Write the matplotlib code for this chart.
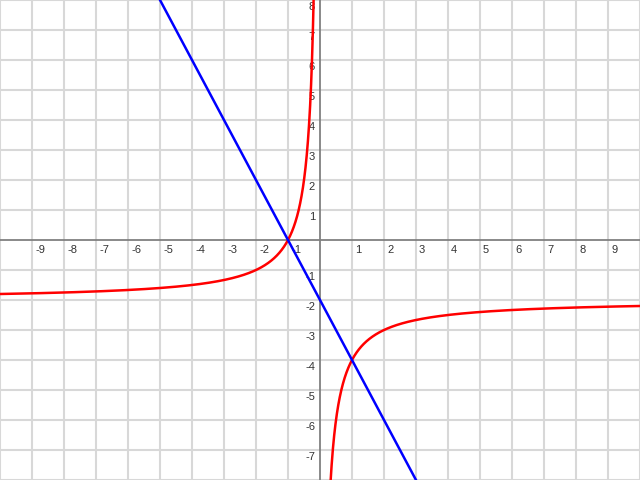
import numpy as np
import matplotlib
matplotlib.use("Agg")
import matplotlib.pyplot as plt

# View window and tick labels
x_range = [-10, 10]
y_range = [-8, 8]
x_ticks = [-9, -8, -7, -6, -5, -4, -3, -2, -1, 1, 2, 3, 4, 5, 6, 7, 8, 9]
y_ticks = [-7, -6, -5, -4, -3, -2, -1, 1, 2, 3, 4, 5, 6, 7, 8]

# Functions shown: line y = m*x + b, hyperbola y = c + k/x
line_m = -2
line_b = -2
hyp_c = -2
hyp_k = -2

fig = plt.figure(figsize=(6.4, 4.8), dpi=100)
ax = fig.add_axes([0, 0, 1, 1])
ax.set_xlim(*x_range)
ax.set_ylim(*y_range)
for s in ax.spines.values():
    s.set_visible(False)
ax.set_xticks([])
ax.set_yticks([])

grid_col = "#d8d8d8"
for gx in range(x_range[0], x_range[1] + 1):
    if gx != 0:
        ax.axvline(gx, color=grid_col, lw=1.5, zorder=0)
for gy in range(y_range[0], y_range[1] + 1):
    if gy != 0:
        ax.axhline(gy, color=grid_col, lw=1.5, zorder=0)
ax.axhline(0, color="#808080", lw=1.3, zorder=1)
ax.axvline(0, color="#808080", lw=1.3, zorder=1)

font = dict(family=["Liberation Sans", "DejaVu Sans"], size=8, color="#333333")
for t in x_ticks:
    ax.annotate(str(t), xy=(t, 0), xytext=(2.2, -3.6), textcoords="offset points",
                ha="left", va="top", zorder=2, **font)
for t in y_ticks:
    ax.annotate(str(t), xy=(0, t), xytext=(-3.6, -5.0), textcoords="offset points",
                ha="right", va="center", zorder=2, **font)

# Line
xl = np.linspace(x_range[0], x_range[1], 200)
ax.plot(xl, line_m * xl + line_b, color="#0000ff", lw=1.8, zorder=4,
        solid_capstyle="butt")

# Hyperbola, two branches
xn = np.linspace(x_range[0], -0.05, 2000)
xp = np.linspace(0.05, x_range[1], 2000)
ax.plot(xn, hyp_c + hyp_k / xn, color="#ff0000", lw=1.8, zorder=3)
ax.plot(xp, hyp_c + hyp_k / xp, color="#ff0000", lw=1.8, zorder=3)

fig.savefig("out.png", dpi=100)
